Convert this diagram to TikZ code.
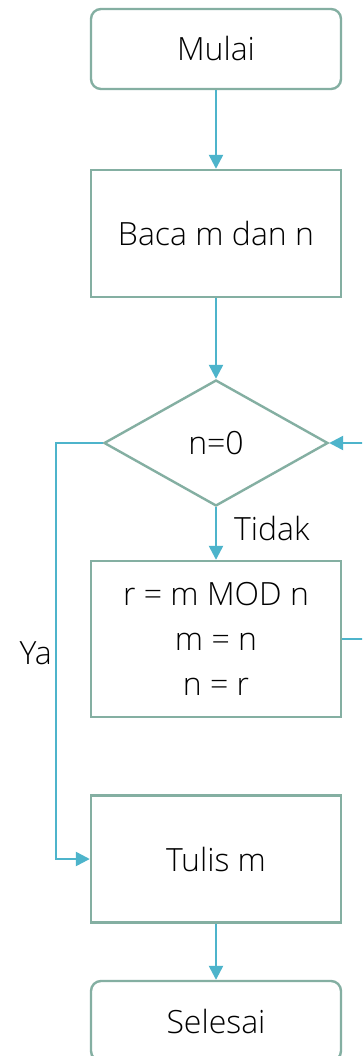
\documentclass[tikz,border=0pt]{standalone}
\usepackage{fontspec}
\setmainfont{Open Sans}[UprightFont=* Light]
\usetikzlibrary{shapes.geometric,arrows.meta}
\definecolor{boxc}{HTML}{84AFA2}
\definecolor{arrc}{HTML}{4DB4CB}
\tikzset{
  base/.style={draw=boxc, line width=2.4pt, fill=white, minimum width=250pt, align=center, font=\fontsize{32}{45}\selectfont, inner sep=0pt},
  term/.style={base, rounded corners=10pt, minimum height=80pt},
  proc/.style={base, minimum height=127pt},
  dec/.style={draw=boxc, line width=2.4pt, diamond, aspect=1.78, minimum width=224pt, minimum height=126pt, inner sep=0pt, font=\fontsize{32}{45}\selectfont},
  conn/.style={draw=arrc, line width=2.4pt, -{Triangle[length=14pt,width=14pt]}},
  lbl/.style={font=\fontsize{32}{36}\selectfont, inner sep=0pt}
}
\begin{document}
\begin{tikzpicture}[x=1pt,y=-1pt]
\clip (0,0) rectangle (362,1056);
\fill[white] (0,0) rectangle (362,1056);
\node[term] (mulai) at (216,49) {Mulai};
\node[proc] (baca) at (216,233.5) {Baca m dan n};
\node[dec] (cek) at (216,443) {n=0};
\node[proc, minimum height=156pt] (hitung) at (216,639) {r = m MOD n\\m = n\\n = r};
\node[proc] (tulis) at (216,859) {Tulis m};
\node[term] (selesai) at (216,1021) {Selesai};
\coordinate (ya1) at (56,443);
\coordinate (ya2) at (56,859);
\coordinate (lp1) at (380,639);
\coordinate (lp2) at (380,443);
\draw[conn] (mulai) -- (baca);
\draw[conn] (baca) -- (cek);
\draw[conn] (cek) -- node[lbl, right=17pt, pos=0.4] (tidak) {Tidak} (hitung);
\draw[conn] (cek.west) -- (ya1) -- node[lbl, left=3pt, pos=0.506] (ya) {Ya} (ya2) -- (tulis.west);
\draw[conn] (hitung.east) -- (lp1) -- (lp2) -- (cek.east);
\draw[conn] (tulis) -- (selesai);
\end{tikzpicture}
\end{document}
